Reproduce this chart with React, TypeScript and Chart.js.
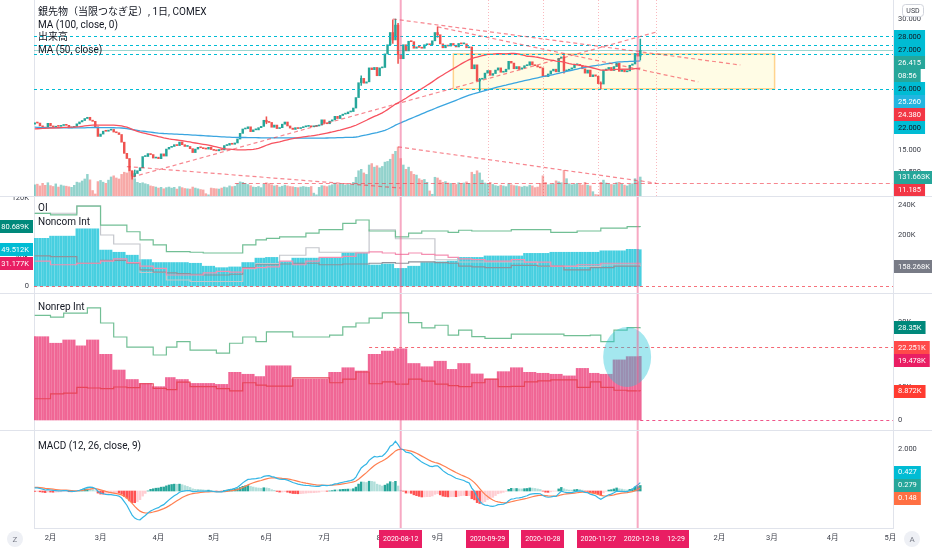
import React, { useEffect, useRef } from 'react';
import { Chart, registerables } from 'chart.js';

Chart.register(...registerables);

// ---------------- calendar ----------------
const FIRST_DATE = '2020-01-24';
const HOLIDAYS = ['2020-02-17', '2020-04-10', '2020-05-25', '2020-07-03', '2020-09-07', '2020-11-26'];
const WEEK0_DATE = '2020-01-27';

// ---------------- price data (COMEX silver, front month) ----------------
// closes Aug 30 2019 .. Jan 23 2020 (only used to seed the moving averages / MACD)
const WARMUP_CLOSES = [
  18.35,
  19.15, 19.55, 18.40, 18.15, 18.20, 18.10, 18.30, 18.20, 17.75, 18.10, 18.05, 17.65, 17.90, 17.95, 18.25, 18.45, 17.95, 18.05, 17.60, 16.95,
  17.55, 17.60, 17.65, 17.50, 17.40, 17.45, 17.55, 17.50, 17.45, 17.60, 17.40, 17.50, 17.55, 17.50, 17.55, 17.50, 17.60, 17.70, 18.00, 17.95, 17.90, 18.05, 18.10,
  18.10, 18.05, 17.55, 17.60, 16.90, 16.80, 16.80, 16.85, 16.90, 17.00, 17.00, 17.10, 17.05, 17.10, 16.95, 17.00, 16.90, 16.90, 17.00, 17.05,
  17.05, 17.15, 16.95, 16.90, 16.60, 16.70, 16.70, 16.90, 16.95, 17.00, 17.00, 17.20, 17.10, 17.20, 17.20, 17.30, 17.60, 17.90, 17.95, 18.00, 17.90,
  18.10, 18.30, 18.10, 18.40, 18.10, 17.90, 18.00, 17.90, 17.70, 17.90, 17.90, 18.00, 18.00, 17.90, 17.95,
];

// daily closes Jan 24 2020 .. Dec 21 2020
const CLOSES = [
  18.10, 18.08, 17.76, 17.62, 17.50, 18.05,
  17.75, 17.60, 17.72, 17.70, 17.80, 17.90, 17.82, 17.52, 17.57, 17.70, 17.99, 18.21, 18.37, 18.60, 18.74, 18.41, 18.28, 17.66, 16.55,
  16.82, 17.15, 17.14, 17.27, 17.35, 17.05, 16.97, 16.77, 15.89, 14.61, 14.02, 12.60, 12.01, 12.30, 12.62, 12.96, 14.24, 14.25, 14.58, 14.47, 14.07, 14.17,
  14.00, 14.55, 14.30, 15.10, 15.30, 15.40, 15.60, 15.50, 15.90, 15.60, 15.40, 15.40, 15.15, 14.70, 15.10, 15.30, 15.25, 15.15, 15.10, 15.30, 15.05,
  14.95, 14.90, 15.05, 15.00, 15.50, 15.55, 15.75, 15.65, 15.80, 16.25, 16.90, 17.40, 17.45, 17.65, 17.10, 17.30, 17.30, 17.55, 17.70, 18.40,
  18.20, 18.15, 17.60, 17.85, 17.45, 17.55, 17.95, 18.20, 17.75, 17.50, 17.35, 17.55, 17.45, 17.55, 17.65, 17.70, 17.75, 17.65, 17.70, 17.75, 17.85, 18.45,
  18.05, 18.00, 18.30, 18.45, 18.85, 18.60, 18.95, 19.10, 19.15, 19.35, 19.40, 19.80, 21.00, 22.70, 23.20, 22.65, 22.80, 24.40, 24.20, 24.45, 23.50, 24.40,
  24.45, 26.00, 27.05, 28.45, 27.60, 29.30, 25.95, 25.45, 27.05, 26.35, 27.45, 27.40, 26.65, 26.80, 26.75, 26.65, 27.05, 27.10, 27.05, 27.50, 28.45,
  28.20, 27.15, 26.70, 27.00, 26.90, 27.20, 27.00, 26.80, 27.20, 27.15, 27.15, 26.70, 26.80, 24.30, 24.75, 22.90, 23.10, 23.20, 23.80, 24.10, 23.55,
  23.75, 24.15, 24.40, 23.90, 23.95, 24.25, 25.15, 24.95, 24.30, 24.55, 24.25, 24.40, 24.65, 24.70, 25.10, 24.75, 24.65, 24.50, 24.40, 23.45, 23.40, 23.70,
  24.05, 24.25, 23.95, 25.50, 25.65, 24.05, 24.10, 24.25, 24.40, 24.75, 24.80, 24.65, 24.30, 23.80, 24.15, 23.40, 23.60, 23.45, 22.60, 22.55,
  24.15, 24.25, 24.45, 24.10, 24.55, 24.95, 24.00, 24.20, 23.95, 24.05, 24.70, 24.85, 26.05, 25.75, 26.415,
];

// notable candle wicks (date, high, low)
const WICK_DATES = ['2020-03-18', '2020-03-19', '2020-06-01', '2020-07-22', '2020-08-07', '2020-08-10', '2020-08-11', '2020-09-01', '2020-09-24', '2020-11-09', '2020-11-30', '2020-12-21'];
const WICK_HIGHS = [12.60, 12.70, 18.80, 23.50, 29.90, 30.00, 29.50, 29.10, 23.20, 26.00, 22.80, 27.70];
const WICK_LOWS = [11.64, 11.90, 18.00, 22.40, 27.20, 28.00, 24.90, 27.90, 21.70, 23.80, 22.00, 25.30];

// daily volume, thousands of contracts
const VOLUMES_K = [
  78, 82, 70, 88, 74, 92,
  72, 66, 84, 62, 76, 70, 68, 64, 60, 74, 96, 92, 104, 118, 150, 112, 38, 14, 100,
  108, 96, 88, 110, 132, 140, 125, 118, 150, 165, 160, 170, 168, 120, 95, 88, 92, 85, 80, 70, 66, 62,
  55, 60, 50, 58, 62, 55, 60, 48, 65, 58, 52, 50, 48, 62, 55, 50, 45, 42, 16, 8, 55,
  52, 50, 48, 55, 62, 58, 70, 65, 68, 85, 98, 95, 88, 80, 72, 62, 60, 66, 58, 82,
  92, 86, 78, 70, 74, 62, 68, 75, 70, 66, 64, 60, 58, 62, 66, 62, 60, 66, 20, 8, 60, 72,
  70, 65, 72, 78, 90, 80, 85, 82, 75, 80, 78, 95, 130, 175, 185, 160, 150, 215, 225, 200, 210, 195,
  205, 235, 240, 255, 290, 310, 340, 260, 215, 185, 200, 170, 150, 145, 120, 110, 115, 95, 35, 12, 130,
  125, 110, 95, 100, 90, 88, 85, 80, 92, 85, 90, 98, 88, 165, 150, 175, 160, 110, 90, 85, 95,
  80, 72, 68, 75, 70, 65, 85, 78, 72, 70, 66, 62, 68, 64, 75, 70, 58, 62, 88, 140, 95, 78,
  80, 85, 105, 98, 92, 178, 120, 85, 78, 82, 88, 80, 76, 95, 75, 70, 30, 10, 8, 95,
  110, 90, 85, 80, 78, 92, 95, 82, 75, 70, 80, 85, 120, 100, 131.663,
];

// ---------------- weekly COT data (thousands), weeks from Jan 27 2020 ----------------
const NC_LONG = [99, 97, 97, 109, 109, 83, 83, 74, 63, 56, 47, 47, 46, 45, 45, 45, 56, 63, 65, 67, 67, 72, 77, 77, 85.5, 90, 75, 75, 67, 72, 75, 75, 73, 76, 75, 75, 75, 77, 77, 77, 73, 73, 75, 75, 79, 79, 81, 80.689];
const NC_NET = [65, 68, 68, 78, 78, 49, 46, 42, 36, 32, 32, 32, 31, 27, 25, 26, 32, 38, 39, 33, 38, 38, 38, 38, 45, 45, 28.6, 30, 24, 27, 32, 33, 34, 39, 39, 41, 41, 41, 44.5, 44.5, 46, 46, 46, 46, 48, 48, 50, 49.512];
const NC_SHORT = [34, 29, 29, 31, 31, 34, 37, 32, 27, 24, 15, 15, 15, 18, 20, 19, 24, 25, 26, 34, 29, 34, 39, 39, 40.5, 45, 46.4, 45, 43, 45, 43, 42, 39, 37, 36, 34, 34, 36, 32.5, 32.5, 27, 27, 29, 29, 31, 31, 31, 31.177];
const NC_SPREAD = [41, 40, 40, 31, 31, 35, 35, 31, 22, 19, 18, 17, 16, 15, 15, 16, 25, 29, 29, 30, 31, 31, 29, 29, 30, 30, 31, 32, 31, 33, 33, 32, 31, 27, 26, 25, 25, 28, 28, 27, 27, 22, 22, 25, 25, 27, 27, 27];
const OI_TOTAL = [229, 229, 229, 239, 239, 200, 188, 188, 150, 150, 140, 140, 138, 138, 138, 138, 155, 162, 162, 173, 173, 183, 177, 177, 177, 177, 207, 207, 195, 195, 195, 167, 167, 164, 164, 164, 164, 164, 164, 158, 158, 158, 158, 158, 160, 160, 160, 158.268];
const NR_LONG = [32, 31.5, 32.7, 32.7, 34.3, 29.7, 25.4, 22.3, 22.3, 19.9, 22.3, 24, 21.4, 21.4, 20.5, 23.5, 25.4, 24, 27, 27, 25.4, 25.4, 25.4, 26, 28.5, 29.7, 31.2, 32.8, 32.8, 29.8, 28.2, 29, 26, 27.5, 25.5, 25, 25, 26.3, 26.3, 26.3, 26.3, 25.8, 25.8, 26, 24, 27.5, 28.3, 28.35];
const NR_NET = [25.5, 23.5, 24.5, 22.7, 24.5, 20.1, 15.3, 12.4, 11.2, 10.2, 13, 12.4, 11.2, 11.2, 10.9, 14.6, 14, 13.3, 16.6, 16.6, 12.5, 12.5, 12.5, 14.6, 16, 15, 20.1, 21.1, 21.8, 17.3, 16.3, 18, 15.5, 17.3, 14.1, 12.5, 14.8, 16, 14.6, 14.3, 14, 13.5, 15.8, 14.3, 14, 18.4, 19.4, 19.478];
const NR_SHORT = [6.5, 8, 8.2, 10, 9.8, 9.6, 10.1, 9.9, 11.1, 9.7, 9.3, 11.6, 10.2, 10.2, 9.6, 8.9, 11.4, 10.7, 10.4, 10.4, 12.9, 12.9, 12.9, 11.4, 12.5, 14.7, 11.1, 11.7, 11, 12.5, 11.9, 11, 10.5, 10.2, 11.4, 12.5, 10.2, 10.3, 11.7, 12, 12.3, 12.3, 10, 11.7, 10, 9.1, 8.9, 8.872];

// ---------------- drawings (data coordinates) ----------------
const H_RAYS = [28, 27, 26, 22];
const LAST_PRICE = 26.415;
const SUPPORT = { from: '2020-05-13', price: 11.185 };
const BOX = { from: '2020-09-10', to: '2021-03-02', top: 26, bottom: 22 };
const TREND_LINES: [string, number, string, number][] = [
  ['2020-08-07', 30.0, '2021-02-11', 24.73],
  ['2020-09-01', 29.1, '2021-01-20', 22.8],
  ['2020-03-18', 11.9, '2020-12-29', 28.5],
  ['2020-03-16', 13.1, '2020-08-12', 10.64],
  ['2020-08-11', 15.35, '2020-12-29', 11.2],
];
const V_SOLID = ['2020-08-12', '2020-12-18'];
const V_DOTTED = ['2020-09-29', '2020-10-28', '2020-11-27', '2020-12-29'];
const DATE_MARKS = ['2020-08-12', '2020-09-29', '2020-10-28', '2020-11-27', '2020-12-18', '2020-12-29'];
const DATE_MARK_TEXT = ['2020-08-12', '2020-09-29', '2020-10-28', '2020-11-27', '2020-12-18', '12-29'];
const NR_HLINE = { from: '2020-07-27', value: 22.251 };
const HIGHLIGHT = { center: '2020-12-14', value: 19.3, halfBars: 9.1, halfValue: 9.2 };

// ---------------- view ranges ----------------
const X_MIN = -0.27;
const X_MAX = 325.97;
const PRICE_RANGE = [9.725, 32.176];
const VOL_MAX = 1360;
const P2_LEFT = [-9.55, 121.36];
const P2_RIGHT = [122.67, 250.67];
const P3_RIGHT = [-3.06, 38.57];
const P4_RIGHT = [-1.762, 2.857];

const PRICE_TICKS = [12.5, 15, 17.5, 20, 22.5, 25, 27.5, 30];
const P2_LEFT_TICKS = [0, 40, 80, 120];
const P2_RIGHT_TICKS = [160, 200, 240];
const P3_TICKS = [0, 10, 20, 30];
const P4_TICKS = [0, 2];

// ---------------- styles ----------------
const FONT = 'Roboto, "Noto Sans CJK JP", "Noto Sans", sans-serif';
const GRID = '#e0e3eb';
const TEXT = '#131722';
const TICK_TEXT = '#3a3d47';
const UP = '#26a69a';
const DOWN = '#ef5350';

// ---------------- derived ----------------
function buildCalendar(count: number) {
  const out: string[] = [];
  let t = Date.parse(FIRST_DATE);
  while (out.length < count) {
    const d = new Date(t);
    const s = d.toISOString().slice(0, 10);
    const dow = d.getUTCDay();
    if (dow !== 0 && dow !== 6 && !HOLIDAYS.includes(s)) out.push(s);
    t += 86400000;
  }
  return out;
}
const CAL = buildCalendar(345);
const dx = (d: string) => CAL.indexOf(d);
const N = CLOSES.length;
const OPENS = CLOSES.map((c, i) => (i === 0 ? WARMUP_CLOSES[WARMUP_CLOSES.length - 1] : CLOSES[i - 1]));
const ALL = [...WARMUP_CLOSES, ...CLOSES];
const W = WARMUP_CLOSES.length;
const sma = (a: number[], n: number) => a.map((_, i) => {
  const s = Math.max(0, i - n + 1);
  let t = 0;
  for (let j = s; j <= i; j++) t += a[j];
  return t / (i - s + 1);
});
const ema = (a: number[], n: number) => {
  const k = 2 / (n + 1);
  let e = a[0];
  return a.map((v, i) => (i === 0 ? e : (e = v * k + e * (1 - k))));
};
const MA50 = sma(ALL, 50).slice(W);
const MA100 = sma(ALL, 100).slice(W);
const EMA12 = ema(ALL, 12);
const EMA26 = ema(ALL, 26);
const MACD_ALL = EMA12.map((v, i) => v - EMA26[i]);
const SIG_ALL = ema(MACD_ALL, 9);
const MACD = MACD_ALL.slice(W);
const SIGNAL = SIG_ALL.slice(W);
const HIST = MACD.map((v, i) => v - SIGNAL[i]);
const WEEK0 = Date.parse(WEEK0_DATE);
const weekOf = (i: number) => Math.min(47, Math.max(0, Math.floor((Date.parse(CAL[i]) - WEEK0) / (7 * 86400000))));
const daily = (arr: number[]) => CLOSES.map((_, i) => ({ x: i, y: arr[weekOf(i)] }));
const MONTH_TICKS = (() => {
  const out: { x: number; label: string }[] = [];
  for (let i = 1; i < CAL.length; i++) {
    if (CAL[i].slice(5, 7) !== CAL[i - 1].slice(5, 7)) {
      const m = Number(CAL[i].slice(5, 7));
      out.push({ x: i, label: m === 1 ? CAL[i].slice(0, 4) : `${m}月` });
    }
  }
  return out.filter((t) => t.x <= X_MAX);
})();

// ---------------- helpers ----------------
const f = (px: number) => `${px}px ${FONT}`;

function yAxis(position: 'left' | 'right', range: number[], width: number, ticks?: number[], fmt?: (v: number) => string) {
  return {
    type: 'linear', position, min: range[0], max: range[1], display: true, offset: false,
    grid: { display: false, drawTicks: false },
    border: { display: true, color: GRID },
    ticks: { display: !!ticks, font: { family: FONT, size: 7.5 }, color: TICK_TEXT, padding: 5, callback: (v: any) => (fmt ? fmt(Number(v)) : String(v)) },
    afterBuildTicks: (s: any) => { if (ticks) s.ticks = ticks.map((v) => ({ value: v })); },
    afterFit: (s: any) => { s.width = width; s.paddingTop = 0; s.paddingBottom = 0; },
  };
}
const hiddenX = { type: 'linear', min: X_MIN, max: X_MAX, display: false, offset: false };

function baseOptions(scales: any) {
  return {
    responsive: false, animation: false, events: [],
    layout: { padding: 0 },
    plugins: { legend: { display: false }, tooltip: { enabled: false } },
    scales,
  };
}

function clip(ctx: CanvasRenderingContext2D, a: any) {
  ctx.beginPath();
  ctx.rect(a.left, a.top, a.right - a.left, a.bottom - a.top);
  ctx.clip();
}
function seg(ctx: CanvasRenderingContext2D, x0: number, y0: number, x1: number, y1: number, color: string, width: number, dash: number[]) {
  ctx.beginPath();
  ctx.setLineDash(dash);
  ctx.strokeStyle = color;
  ctx.lineWidth = width;
  ctx.moveTo(x0, y0);
  ctx.lineTo(x1, y1);
  ctx.stroke();
}
function legend(ctx: CanvasRenderingContext2D, lines: [string, number][]) {
  ctx.save();
  ctx.font = f(10);
  ctx.fillStyle = TEXT;
  ctx.textBaseline = 'middle';
  ctx.textAlign = 'left';
  for (const [t, y] of lines) ctx.fillText(t, 38, y);
  ctx.restore();
}
type AxisLabel = { axis: string; value: number; text: string; bg: string; fg: string };
function axisLabels(chart: any, items: AxisLabel[], side: 'left' | 'right', mode: 'down' | 'center') {
  const { ctx, chartArea: a } = chart;
  const H = 13;
  const list = items.map((it, i) => ({ ...it, i, y: chart.scales[it.axis].getPixelForValue(it.value), ly: 0 }));
  list.sort((p, q) => p.y - q.y || p.i - q.i);
  if (mode === 'down') {
    let last = -1e9;
    for (const p of list) { p.ly = Math.max(p.y, last + H); last = p.ly; }
  } else {
    let clusters = list.map((p) => ({ items: [p], c: p.y }));
    let changed = true;
    while (changed) {
      changed = false;
      for (let k = 0; k < clusters.length - 1; k++) {
        const A = clusters[k], B = clusters[k + 1];
        if (A.c + (A.items.length * H) / 2 > B.c - (B.items.length * H) / 2) {
          const items = [...A.items, ...B.items];
          clusters.splice(k, 2, { items, c: items.reduce((s, p) => s + p.y, 0) / items.length });
          changed = true;
          break;
        }
      }
    }
    for (const cl of clusters) cl.items.forEach((p, k) => { p.ly = cl.c - ((cl.items.length - 1) * H) / 2 + k * H; });
  }
  ctx.save();
  ctx.font = f(7.5);
  ctx.textBaseline = 'middle';
  ctx.textAlign = 'left';
  for (const p of list) {
    const w = ctx.measureText(p.text).width + 8;
    const x0 = side === 'right' ? a.right + 1 : a.left - 1 - w;
    ctx.fillStyle = p.bg;
    ctx.fillRect(x0, Math.round(p.ly - H / 2), w, H);
    ctx.fillStyle = p.fg;
    ctx.fillText(p.text, x0 + 4, p.ly + 0.5);
  }
  ctx.restore();
}
function solidVLines(chart: any, top: number, bottom: number) {
  const { ctx, scales } = chart;
  ctx.save();
  for (const d of V_SOLID) {
    const x = scales.x.getPixelForValue(dx(d));
    seg(ctx, x, top, x, bottom, 'rgba(240,98,146,0.55)', 2, []);
  }
  ctx.restore();
}

// ---------------- pane builders ----------------
function buildPane1(canvas: HTMLCanvasElement) {
  const candleColors = CLOSES.map((c, i) => (c >= OPENS[i] ? UP : DOWN));
  const volColors = CLOSES.map((c, i) => (c >= OPENS[i] ? 'rgba(38,166,154,0.5)' : 'rgba(239,83,80,0.5)'));
  const wickColors = WICK_DATES.map((d) => candleColors[dx(d)]);
  const plugin = {
    id: 'pane1',
    beforeDatasetsDraw(chart: any) {
      const { ctx, chartArea: a, scales } = chart;
      const x = scales.x, y = scales.y;
      ctx.save();
      clip(ctx, a);
      const x0 = x.getPixelForValue(dx(BOX.from)), x1 = x.getPixelForValue(dx(BOX.to));
      const y0 = y.getPixelForValue(BOX.top), y1 = y.getPixelForValue(BOX.bottom);
      ctx.fillStyle = 'rgba(255,236,110,0.18)';
      ctx.fillRect(x0, y0, x1 - x0, y1 - y0);
      ctx.strokeStyle = 'rgba(255,183,77,0.6)';
      ctx.lineWidth = 1.5;
      ctx.strokeRect(x0, y0, x1 - x0, y1 - y0);
      ctx.restore();
    },
    afterDatasetsDraw(chart: any) {
      const { ctx, chartArea: a, scales } = chart;
      const x = scales.x, y = scales.y;
      ctx.save();
      clip(ctx, a);
      for (const d of V_DOTTED) {
        const px = Math.round(x.getPixelForValue(dx(d))) + 0.5;
        seg(ctx, px, a.top, px, a.bottom, 'rgba(242,54,69,0.35)', 1, [1, 2]);
      }
      for (const p of H_RAYS) {
        const py = Math.round(y.getPixelForValue(p)) + 0.5;
        seg(ctx, a.left, py, a.right, py, '#00bcd4', 1, [3, 3]);
      }
      const lp = Math.round(y.getPixelForValue(LAST_PRICE)) + 0.5;
      seg(ctx, a.left, lp, a.right, lp, 'rgba(38,166,154,0.45)', 1, []);
      const sp = Math.round(y.getPixelForValue(SUPPORT.price)) + 0.5;
      seg(ctx, x.getPixelForValue(dx(SUPPORT.from)), sp, a.right, sp, 'rgba(242,54,69,0.6)', 1, [4, 3]);
      for (const [d0, p0, d1, p1] of TREND_LINES) {
        seg(ctx, x.getPixelForValue(dx(d0)), y.getPixelForValue(p0), x.getPixelForValue(dx(d1)), y.getPixelForValue(p1), 'rgba(242,54,69,0.6)', 1.2, [4, 3]);
      }
      ctx.restore();
      solidVLines(chart, a.top, a.bottom);
    },
    afterDraw(chart: any) {
      const { ctx } = chart;
      legend(ctx, [['銀先物（当限つなぎ足）, 1日, COMEX', 12], ['MA (100, close, 0)', 25], ['出来高', 37], ['MA (50, close)', 50]]);
      axisLabels(chart, [
        { axis: 'y', value: 28, text: '28.000', bg: '#00bcd4', fg: TEXT },
        { axis: 'y', value: 27, text: '27.000', bg: '#00bcd4', fg: TEXT },
        { axis: 'y', value: 26.415, text: '26.415', bg: '#26a69a', fg: '#ffffff' },
        { axis: 'y', value: 26.415, text: '08:56', bg: '#26a69a', fg: '#ffffff' },
        { axis: 'y', value: 26, text: '26.000', bg: '#00bcd4', fg: TEXT },
        { axis: 'y', value: 25.26, text: '25.260', bg: '#22b5e0', fg: '#ffffff' },
        { axis: 'y', value: 24.38, text: '24.380', bg: '#f23645', fg: '#ffffff' },
        { axis: 'y', value: 22, text: '22.000', bg: '#00bcd4', fg: TEXT },
        { axis: 'yVol', value: 131.663, text: '131.663K', bg: '#26a69a', fg: '#ffffff' },
        { axis: 'y', value: 11.185, text: '11.185', bg: '#f23645', fg: '#ffffff' },
      ], 'right', 'down');
      ctx.save();
      ctx.strokeStyle = '#d1d4dc';
      ctx.lineWidth = 1;
      ctx.beginPath();
      ctx.roundRect(902.5, 4.5, 21, 12, 3);
      ctx.fillStyle = '#ffffff';
      ctx.fill();
      ctx.stroke();
      ctx.fillStyle = TICK_TEXT;
      ctx.font = f(7);
      ctx.textAlign = 'center';
      ctx.textBaseline = 'middle';
      ctx.fillText('USD', 913, 11);
      ctx.restore();
    },
  };
  return new Chart(canvas, {
    type: 'bar',
    data: {
      datasets: [
        { type: 'line', yAxisID: 'y', data: MA50.map((v, i) => ({ x: i, y: v })), borderColor: '#f7525f', borderWidth: 1.3, pointRadius: 0, order: 0 },
        { type: 'line', yAxisID: 'y', data: MA100.map((v, i) => ({ x: i, y: v })), borderColor: '#3aa5e0', borderWidth: 1.3, pointRadius: 0, order: 1 },
        { type: 'bar', yAxisID: 'y', data: CLOSES.map((c, i) => ({ x: i, y: [OPENS[i], c] })), backgroundColor: candleColors, barThickness: 1.8, minBarLength: 1, grouped: false, order: 2 },
        { type: 'bar', yAxisID: 'y', data: WICK_DATES.map((d, k) => ({ x: dx(d), y: [WICK_LOWS[k], WICK_HIGHS[k]] })), backgroundColor: wickColors, barThickness: 0.9, grouped: false, order: 2 },
        { type: 'bar', yAxisID: 'yVol', data: VOLUMES_K.map((v, i) => ({ x: i, y: v })), backgroundColor: volColors, barThickness: 1.8, grouped: false, order: 3 },
      ],
    } as any,
    options: baseOptions({
      x: hiddenX,
      yL: yAxis('left', [0, 1], 34),
      y: yAxis('right', PRICE_RANGE, 39, PRICE_TICKS, (v) => v.toFixed(3)),
      yVol: { type: 'linear', min: 0, max: VOL_MAX, display: false },
    }) as any,
    plugins: [plugin],
  });
}

function buildPane2(canvas: HTMLCanvasElement) {
  const plugin = {
    id: 'pane2',
    afterDatasetsDraw(chart: any) {
      const { ctx, chartArea: a, scales } = chart;
      ctx.save();
      clip(ctx, a);
      const py = Math.round(scales.yL.getPixelForValue(0)) + 0.5;
      seg(ctx, a.left, py, a.right, py, 'rgba(242,54,69,0.7)', 1, [3, 3]);
      ctx.restore();
      solidVLines(chart, a.top, a.bottom);
    },
    afterDraw(chart: any) {
      legend(chart.ctx, [['OI', 11], ['Noncom Int', 25]]);
      axisLabels(chart, [
        { axis: 'yL', value: 80.689, text: '80.689K', bg: '#00897b', fg: '#ffffff' },
        { axis: 'yL', value: 49.512, text: '49.512K', bg: '#00bcd4', fg: '#ffffff' },
        { axis: 'yL', value: 31.177, text: '31.177K', bg: '#e91e63', fg: '#ffffff' },
      ], 'left', 'down');
      axisLabels(chart, [{ axis: 'yR', value: 158.268, text: '158.268K', bg: '#787b86', fg: '#ffffff' }], 'right', 'down');
    },
  };
  const line = (arr: number[], color: string, axis: string, order: number) => ({
    type: 'line', yAxisID: axis, data: daily(arr), borderColor: color, borderWidth: 1.2, pointRadius: 0, stepped: 'before', order,
  });
  return new Chart(canvas, {
    type: 'bar',
    data: {
      datasets: [
        line(NC_LONG, '#72bf95', 'yL', 0),
        line(NC_SHORT, '#f48fb1', 'yL', 1),
        line(NC_SPREAD, '#8f929b', 'yL', 2),
        line(OI_TOTAL, '#c4c6cc', 'yR', 3),
        { type: 'bar', yAxisID: 'yL', data: daily(NC_NET), backgroundColor: 'rgba(0,188,212,0.72)', barThickness: 1.9, grouped: false, order: 5 },
      ],
    } as any,
    options: baseOptions({
      x: hiddenX,
      yL: yAxis('left', P2_LEFT, 34, P2_LEFT_TICKS, (v) => (v === 0 ? '0' : `${v}K`)),
      yR: yAxis('right', P2_RIGHT, 39, P2_RIGHT_TICKS, (v) => `${v}K`),
    }) as any,
    plugins: [plugin],
  });
}

function buildPane3(canvas: HTMLCanvasElement) {
  const plugin = {
    id: 'pane3',
    afterDatasetsDraw(chart: any) {
      const { ctx, chartArea: a, scales } = chart;
      const x = scales.x, y = scales.yR;
      ctx.save();
      clip(ctx, a);
      const hy = Math.round(y.getPixelForValue(NR_HLINE.value)) + 0.5;
      seg(ctx, x.getPixelForValue(dx(NR_HLINE.from)), hy, a.right, hy, 'rgba(242,54,69,0.75)', 1, [3, 3]);
      const zy = Math.round(y.getPixelForValue(0)) + 0.5;
      seg(ctx, x.getPixelForValue(N - 1), zy, a.right, zy, 'rgba(233,30,99,0.75)', 1, [3, 3]);
      const cx = x.getPixelForValue(dx(HIGHLIGHT.center));
      const cy = y.getPixelForValue(HIGHLIGHT.value);
      const rx = Math.abs(x.getPixelForValue(dx(HIGHLIGHT.center) + HIGHLIGHT.halfBars) - cx);
      const ry = Math.abs(y.getPixelForValue(HIGHLIGHT.value + HIGHLIGHT.halfValue) - cy);
      ctx.beginPath();
      ctx.ellipse(cx, cy, rx, ry, 0, 0, Math.PI * 2);
      ctx.fillStyle = 'rgba(38,198,218,0.42)';
      ctx.fill();
      ctx.restore();
      solidVLines(chart, a.top, a.bottom);
    },
    afterDraw(chart: any) {
      legend(chart.ctx, [['Nonrep Int', 13]]);
      axisLabels(chart, [
        { axis: 'yR', value: 28.35, text: '28.35K', bg: '#00897b', fg: '#ffffff' },
        { axis: 'yR', value: 22.251, text: '22.251K', bg: '#ff4a4a', fg: '#ffffff' },
        { axis: 'yR', value: 19.478, text: '19.478K', bg: '#e91e63', fg: '#ffffff' },
        { axis: 'yR', value: 8.872, text: '8.872K', bg: '#ff3b30', fg: '#ffffff' },
      ], 'right', 'down');
    },
  };
  return new Chart(canvas, {
    type: 'bar',
    data: {
      datasets: [
        { type: 'line', yAxisID: 'yR', data: daily(NR_LONG), borderColor: '#72bf95', borderWidth: 1.2, pointRadius: 0, stepped: 'before', order: 0 },
        { type: 'line', yAxisID: 'yR', data: daily(NR_SHORT), borderColor: '#e8445a', borderWidth: 1.2, pointRadius: 0, stepped: 'before', order: 1 },
        { type: 'bar', yAxisID: 'yR', data: daily(NR_NET), backgroundColor: 'rgba(233,30,99,0.68)', barThickness: 1.9, grouped: false, order: 5 },
      ],
    } as any,
    options: baseOptions({
      x: hiddenX,
      yL: yAxis('left', [0, 1], 34),
      yR: yAxis('right', P3_RIGHT, 39, P3_TICKS, (v) => (v === 0 ? '0' : `${v}K`)),
    }) as any,
    plugins: [plugin],
  });
}

function buildPane4(canvas: HTMLCanvasElement) {
  const histColors = HIST.map((h, i) => {
    const prev = i === 0 ? h : HIST[i - 1];
    if (h >= 0) return h >= prev ? '#26a69a' : '#b2dfdb';
    return h <= prev ? '#ff5252' : '#ffcdd2';
  });
  const plugin = {
    id: 'pane4',
    afterDatasetsDraw(chart: any) {
      const { chartArea: a } = chart;
      solidVLines(chart, a.top, a.bottom);
    },
    afterDraw(chart: any) {
      const { ctx, scales, chartArea: a } = chart;
      legend(ctx, [['MACD (12, 26, close, 9)', 15]]);
      axisLabels(chart, [
        { axis: 'yR', value: 0.427, text: '0.427', bg: '#00bcd4', fg: '#ffffff' },
        { axis: 'yR', value: 0.279, text: '0.279', bg: '#26a69a', fg: '#ffffff' },
        { axis: 'yR', value: 0.148, text: '0.148', bg: '#ff7043', fg: '#ffffff' },
      ], 'right', 'center');
      ctx.save();
      ctx.font = f(7);
      ctx.textAlign = 'center';
      ctx.textBaseline = 'middle';
      const cy = a.bottom + 11;
      let lastRight = -1e9;
      DATE_MARKS.forEach((d, k) => {
        const text = DATE_MARK_TEXT[k];
        const w = ctx.measureText(text).width + 8;
        const cx = scales.x.getPixelForValue(dx(d));
        let x0 = cx - w / 2;
        if (x0 < lastRight) x0 = lastRight;
        lastRight = x0 + w;
        ctx.fillStyle = '#e91e63';
        ctx.fillRect(Math.round(x0), Math.round(cy - 9), Math.round(w), 18);
        ctx.fillStyle = '#ffffff';
        ctx.fillText(text, x0 + w / 2, cy + 0.5);
      });
      for (const [t, x] of [['Z', 15], ['A', 912]] as [string, number][]) {
        ctx.beginPath();
        ctx.arc(x, cy, 8, 0, Math.PI * 2);
        ctx.fillStyle = '#eef0f5';
        ctx.fill();
        ctx.fillStyle = '#787b86';
        ctx.font = f(8);
        ctx.fillText(t, x, cy + 0.5);
      }
      ctx.restore();
    },
  };
  return new Chart(canvas, {
    type: 'bar',
    data: {
      datasets: [
        { type: 'line', yAxisID: 'yR', data: MACD.map((v, i) => ({ x: i, y: v })), borderColor: '#33b5e5', borderWidth: 1.2, pointRadius: 0, order: 0 },
        { type: 'line', yAxisID: 'yR', data: SIGNAL.map((v, i) => ({ x: i, y: v })), borderColor: '#ff7f50', borderWidth: 1.2, pointRadius: 0, order: 1 },
        { type: 'bar', yAxisID: 'yR', data: HIST.map((v, i) => ({ x: i, y: v })), backgroundColor: histColors, barThickness: 1.8, grouped: false, order: 2 },
      ],
    } as any,
    options: baseOptions({
      x: {
        type: 'linear', min: X_MIN, max: X_MAX, position: 'bottom', display: true, offset: false,
        grid: { display: false, drawTicks: false },
        border: { display: true, color: GRID },
        ticks: { autoSkip: false, maxRotation: 0, minRotation: 0, padding: 6, font: { family: FONT, size: 7.5 }, color: TICK_TEXT, callback: (_v: any, i: number) => (MONTH_TICKS[i] ? MONTH_TICKS[i].label : '') },
        afterBuildTicks: (s: any) => { s.ticks = MONTH_TICKS.map((t) => ({ value: t.x })); },
        afterFit: (s: any) => { s.height = 22; s.paddingLeft = 0; s.paddingRight = 0; },
      },
      yL: yAxis('left', [0, 1], 34),
      yR: yAxis('right', P4_RIGHT, 39, P4_TICKS, (v) => v.toFixed(3)),
    }) as any,
    plugins: [plugin],
  });
}

export default function App() {
  const r1 = useRef<HTMLCanvasElement>(null);
  const r2 = useRef<HTMLCanvasElement>(null);
  const r3 = useRef<HTMLCanvasElement>(null);
  const r4 = useRef<HTMLCanvasElement>(null);
  useEffect(() => {
    const charts = [
      buildPane1(r1.current!),
      buildPane2(r2.current!),
      buildPane3(r3.current!),
      buildPane4(r4.current!),
    ];
    return () => charts.forEach((c) => c.destroy());
  }, []);
  const cs = (top: number, h: number): React.CSSProperties => ({ position: 'absolute', left: 0, top, width: 932, height: h, background: '#ffffff', display: 'block' });
  return (
    <div style={{ position: 'absolute', left: 0, top: 0, width: 932, height: 550, background: GRID, overflow: 'hidden' }}>
      <canvas ref={r1} width={932} height={196} style={cs(0, 196)} />
      <canvas ref={r2} width={932} height={96} style={cs(197, 96)} />
      <canvas ref={r3} width={932} height={136} style={cs(294, 136)} />
      <canvas ref={r4} width={932} height={119} style={cs(431, 119)} />
    </div>
  );
}
